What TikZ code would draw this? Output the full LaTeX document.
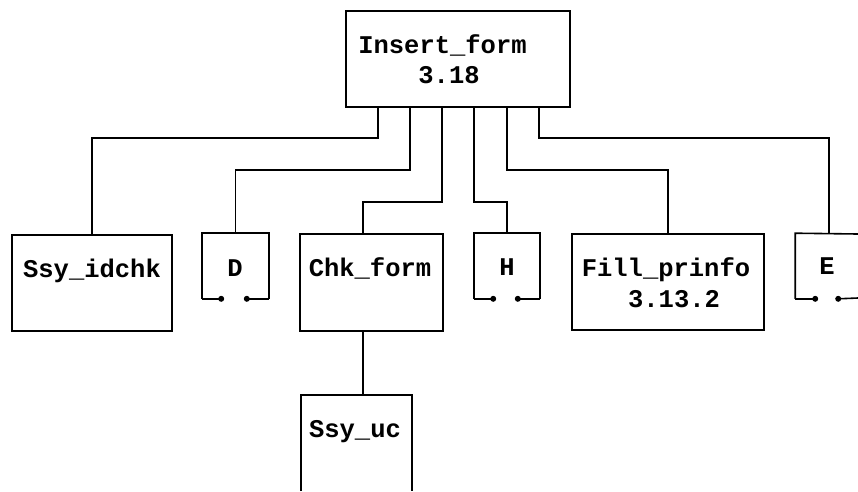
\documentclass[tikz,border=0pt]{standalone}
\usepackage{fontspec}
\setmonofont{Liberation Mono}
\usetikzlibrary{calc}
\begin{document}
\begin{tikzpicture}[x=1pt,y=-1pt,line width=1.6pt,
  box/.style={draw,rectangle,inner sep=0pt,line width=1.6pt},
  ghost/.style={rectangle,inner sep=0pt},
  lbl/.style={font=\ttfamily\bfseries\fontsize{25.5}{30}\selectfont,anchor=base,inner sep=0pt},
  wire/.style={line width=1.6pt},
  dotmark/.style={circle,fill=black,inner sep=0pt,minimum size=6pt}]
\useasboundingbox[fill=white] (0,0) rectangle (858,491);
% boxes
\node[box,minimum width=224pt,minimum height=96pt] (ins) at (458,59) {};
\node[box,minimum width=160pt,minimum height=96pt] (idchk) at (92,283) {};
\node[ghost,minimum width=65pt,minimum height=64pt] (D) at (235.5,266) {};
\node[box,minimum width=143pt,minimum height=97pt] (chk) at (371.5,282.5) {};
\node[ghost,minimum width=64pt,minimum height=64pt] (H) at (507,266) {};
\node[box,minimum width=192pt,minimum height=96pt] (fill) at (668,282) {};
\node[ghost,minimum width=66pt,minimum height=64pt] (E) at (829,266) {};
% labels
\node[lbl] (insT1) at (442.5,53) {Insert\_form};
\node[lbl] (insT2) at (449,83) {3.18};
\node[lbl] (idchkT) at (92,277) {Ssy\_idchk};
\node[lbl] (DT) at (235,276) {D};
\node[lbl] (chkT) at (370,276) {Chk\_form};
\node[lbl] (HT) at (507,275) {H};
\node[lbl] (fillT1) at (666,276) {Fill\_prinfo};
\node[lbl] (fillT2) at (674,307) {3.13.2};
\node[lbl] (ET) at (827,274) {E};
\node[lbl] (ucT) at (355,437) {Ssy\_uc};
% Ssy_uc box (open at the page bottom)
\coordinate (ucL) at (301,491);
\coordinate (ucR) at (412,491);
\coordinate (ucTop) at (363,395);
\draw[wire] (ucL) -- (301,395) -- (412,395) -- (ucR);
% open-bottom boxes with contacts
\draw[wire] (D.south west) -- (D.north west) -- (D.north east) -- (D.south east);
\node[dotmark] (Dd1) at ($(D.south west)+(19,0)$) {};
\node[dotmark] (Dd2) at ($(D.south east)+(-22,0)$) {};
\draw[wire] (D.south west) -- (Dd1.center);
\draw[wire] (D.south east) -- (Dd2.center);
\draw[wire] (H.south west) -- (H.north west) -- (H.north east) -- (H.south east);
\node[dotmark] (Hd1) at ($(H.south west)+(19,0)$) {};
\node[dotmark] (Hd2) at ($(H.south east)+(-22,0)$) {};
\draw[wire] (H.south west) -- (Hd1.center);
\draw[wire] (H.south east) -- (Hd2.center);
\coordinate (Eend) at (858,298);
\draw[wire] (E.south west) -- (E.north west) -- (858,234);
\node[dotmark] (Ed1) at ($(E.south west)+(20,0)$) {};
\node[dotmark] (Ed2) at ($(E.south west)+(43,0)$) {};
\draw[wire] (E.south west) -- (Ed1.center);
\draw[wire] (Ed2.center) -- (Eend);
% connectors
\coordinate (s1) at (378,107);
\coordinate (s2) at (410,107);
\coordinate (s3) at (442,107);
\coordinate (s4) at (474,107);
\coordinate (s5) at (507,107);
\coordinate (s6) at (539,107);
\coordinate (chkTop) at (363,234);
\coordinate (chkBot) at (363,331);
\draw[wire] (s1) -- (378,138) -| (idchk.north);
\draw[wire] (s2) -- (410,170) -| (D.north);
\draw[wire] (s3) -- (442,202) -| (chkTop);
\draw[wire] (s4) -- (474,202) -| (H.north);
\draw[wire] (s5) -- (507,170) -| (fill.north);
\draw[wire] (s6) -- (539,138) -| (E.north);
\draw[wire] (chkBot) -- (ucTop);
\end{tikzpicture}
\end{document}
